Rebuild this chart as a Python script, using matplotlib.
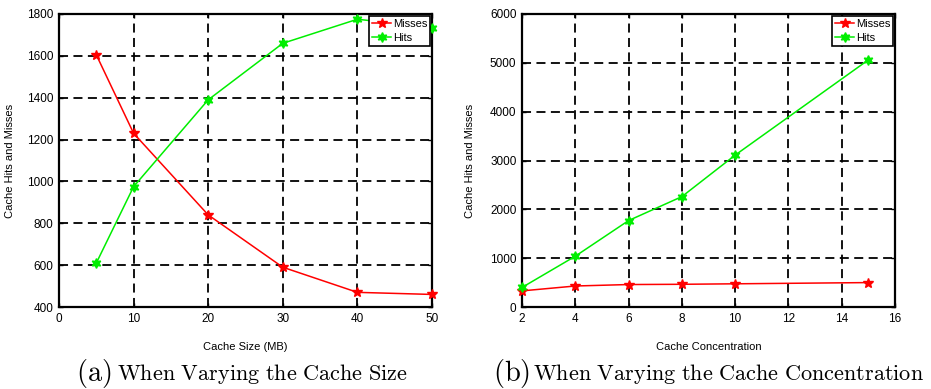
import numpy as np
import matplotlib.pyplot as plt

plt.rcParams['font.family'] = ['Liberation Sans', 'DejaVu Sans']
plt.rcParams['mathtext.fontset'] = 'cm'

# (a) varying cache size
size_mb = [5, 10, 20, 30, 40, 50]
size_misses = [1605, 1230, 840, 590, 470, 460]
size_hits = [610, 975, 1390, 1660, 1775, 1735]

# (b) varying cache concentration
conc = [2, 4, 6, 8, 10, 15]
conc_misses = [330, 430, 460, 465, 475, 500]
conc_hits = [400, 1040, 1770, 2260, 3110, 5060]

W, H = 931, 389
fig = plt.figure(figsize=(W/100, H/100), dpi=100)
ax1 = fig.add_axes([59/W, 1-307/H, 373/W, 293/H])
ax2 = fig.add_axes([522/W, 1-307/H, 373/W, 293/H])

hexagram = (6, 1, 0)


def style(ax, xlim, ylim, xticks, yticks, xlabel, ylab_x):
    ax.set_xlim(*xlim)
    ax.set_ylim(*ylim)
    ax.set_xticks(xticks)
    ax.set_yticks(yticks)
    ax.tick_params(direction='in', labelsize=8.5, length=3, width=1,
                   top=True, right=True, pad=4)
    ax.grid(True, color='black', linestyle=(0, (5, 3)), linewidth=1.3)
    for s in ax.spines.values():
        s.set_linewidth(1.6)
    ax.set_xlabel(xlabel, fontsize=8)
    ax.xaxis.set_label_coords(0.5, -0.119)
    ax.set_ylabel('Cache Hits and Misses', fontsize=8)
    ax.yaxis.set_label_coords(ylab_x, 0.5)
    leg = ax.legend(loc='upper right', fontsize=8, fancybox=False,
                    framealpha=1, edgecolor='black', borderpad=0.25,
                    handlelength=1.7, handletextpad=0.15, labelspacing=0.35,
                    borderaxespad=0.2)
    leg.get_frame().set_linewidth(1.2)


ax1.plot(size_mb, size_misses, color='#ff0000', marker='*', markersize=7,
         linewidth=1.1, label='Misses', clip_on=False, zorder=3)
ax1.plot(size_mb, size_hits, color='#00ee00', marker=hexagram, markersize=7,
         linewidth=1.1, label='Hits', clip_on=False, zorder=3)
style(ax1, (0, 50), (400, 1800), [0, 10, 20, 30, 40, 50],
      range(400, 1801, 200), 'Cache Size (MB)', -0.118)

ax2.plot(conc, conc_misses, color='#ff0000', marker='*', markersize=7,
         linewidth=1.1, label='Misses', clip_on=False, zorder=3)
ax2.plot(conc, conc_hits, color='#00ee00', marker=hexagram, markersize=7,
         linewidth=1.1, label='Hits', clip_on=False, zorder=3)
style(ax2, (2, 16), (0, 6000), range(2, 17, 2),
      range(0, 6001, 1000), 'Cache Concentration', -0.126)

fig.text(112/W, 1-373/H, r'$\mathrm{(a)}$', fontsize=20.5,
         ha='right', va='center')
fig.text(117/W, 1-374/H, r'$\mathrm{When\ Varying\ the\ Cache\ Size}$',
         fontsize=16, ha='left', va='center')
fig.text(530/W, 1-373/H, r'$\mathrm{(b)}$', fontsize=20.5,
         ha='right', va='center')
fig.text(533/W, 1-374/H,
         r'$\mathrm{When\ Varying\ the\ Cache\ Concentration}$',
         fontsize=16, ha='left', va='center')

fig.savefig('out.png', dpi=100)
